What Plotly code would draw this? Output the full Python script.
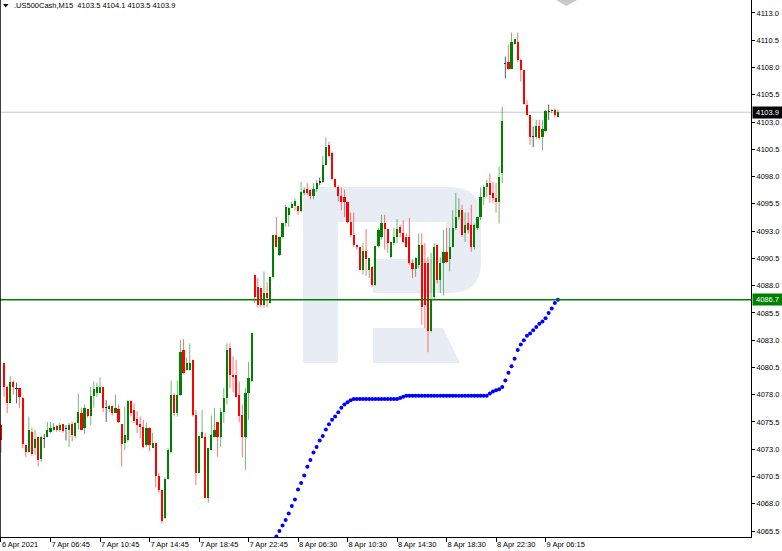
import plotly.graph_objects as go

# ---------------- data ----------------
tick_labels = ["6 Apr 2021", "7 Apr 06:45", "7 Apr 10:45", "7 Apr 14:45", "7 Apr 18:45",
               "7 Apr 22:45", "8 Apr 06:30", "8 Apr 10:30", "8 Apr 14:30", "8 Apr 18:30",
               "8 Apr 22:30", "9 Apr 06:15"]
y_tick_values = [4065.5, 4068.0, 4070.5, 4073.0, 4075.5, 4078.0, 4080.5, 4083.0, 4085.5,
                 4088.0, 4090.5, 4093.0, 4095.5, 4098.0, 4100.5, 4103.0, 4105.5, 4108.0,
                 4110.5, 4113.0]

opens = [4075.2, 4080.9, 4078.7, 4077.2, 4079.2, 4078.6, 4078.6, 4077.7, 4073.4, 4072.7,
         4074.6, 4073.1, 4074.1, 4072.1, 4074.0, 4074.1, 4074.6, 4074.8, 4075.1, 4074.8,
         4075.3, 4074.9, 4074.8, 4075.3, 4074.2, 4075.4, 4076.3, 4074.9, 4076.7, 4076.0,
         4077.9, 4078.2, 4078.2, 4078.7, 4076.8, 4076.7, 4077.0, 4076.3, 4076.7, 4075.3,
         4073.6, 4073.8, 4077.4, 4076.6, 4075.8, 4075.3, 4075.0, 4073.4, 4074.9, 4073.1,
         4073.6, 4070.5, 4069.3, 4066.7, 4070.3, 4072.7, 4078.0, 4076.3, 4078.0, 4082.1,
         4080.3, 4080.3, 4081.2, 4076.1, 4070.8, 4074.0, 4074.1, 4068.5, 4072.9, 4074.1,
         4075.5, 4074.1, 4076.4, 4077.7, 4082.3, 4079.8, 4079.8, 4078.0, 4076.1, 4074.1,
         4078.2, 4079.3, 4089.0, 4087.9, 4087.8, 4086.2, 4087.3, 4086.4, 4088.8, 4092.6,
         4090.8, 4092.5, 4093.7, 4094.5, 4095.1, 4095.3, 4095.3, 4094.8, 4096.5, 4096.9,
         4096.8, 4096.2, 4096.9, 4097.5, 4097.5, 4099.1, 4100.9, 4100.2, 4097.8, 4097.0,
         4096.2, 4096.1, 4095.7, 4093.8, 4092.6, 4091.7, 4091.5, 4089.4, 4091.2, 4089.4,
         4089.7, 4088.1, 4091.6, 4092.5, 4093.7, 4093.2, 4090.6, 4091.9, 4092.5, 4093.4,
         4092.8, 4092.5, 4092.5, 4090.1, 4089.5, 4089.9, 4091.7, 4090.1, 4090.1, 4083.8,
         4087.0, 4091.7, 4088.5, 4090.1, 4091.1, 4090.4, 4091.5, 4093.3, 4094.3, 4094.9,
         4092.8, 4093.7, 4093.6, 4091.5, 4093.3, 4094.3, 4096.1, 4097.0, 4097.4, 4096.5,
         4096.0, 4095.7, 4098.3, 4108.4, 4108.5, 4107.9, 4110.2, 4110.3, 4108.7, 4107.8,
         4104.6, 4103.6, 4101.7, 4101.6, 4102.6, 4101.6, 4102.2, 4104.0, 4104.0, 4104.1,
         4103.5]
highs = [4075.2, 4080.9, 4078.8, 4079.7, 4079.3, 4079.1, 4078.6, 4077.8, 4073.4, 4076.0,
         4075.0, 4074.8, 4074.1, 4074.2, 4074.4, 4075.5, 4075.5, 4075.4, 4075.2, 4075.4,
         4075.3, 4075.2, 4075.4, 4075.5, 4075.5, 4078.1, 4076.8, 4077.1, 4076.7, 4078.7,
         4079.2, 4079.1, 4079.6, 4078.7, 4077.5, 4077.1, 4077.0, 4078.0, 4077.1, 4075.3,
         4076.9, 4077.5, 4077.5, 4077.2, 4076.5, 4076.0, 4075.7, 4075.4, 4075.0, 4074.5,
         4073.6, 4070.8, 4069.3, 4070.4, 4073.1, 4079.3, 4078.1, 4079.3, 4083.0, 4083.1,
         4081.4, 4082.7, 4081.2, 4076.6, 4074.2, 4076.6, 4074.5, 4073.1, 4076.1, 4076.8,
         4075.5, 4076.8, 4078.6, 4082.7, 4082.7, 4081.5, 4081.2, 4079.2, 4077.1, 4078.6,
         4081.0, 4083.7, 4089.0, 4088.7, 4087.8, 4089.3, 4088.3, 4088.8, 4092.6, 4094.3,
         4092.5, 4093.7, 4095.4, 4095.2, 4095.7, 4096.0, 4095.3, 4097.5, 4097.0, 4097.4,
         4096.8, 4097.4, 4097.7, 4097.9, 4099.9, 4101.6, 4101.2, 4100.3, 4097.8, 4097.2,
         4097.0, 4096.8, 4095.7, 4094.7, 4094.7, 4091.7, 4091.5, 4091.9, 4093.2, 4090.5,
         4089.8, 4091.6, 4093.3, 4094.5, 4094.5, 4093.2, 4092.0, 4093.3, 4094.1, 4093.6,
         4094.0, 4092.8, 4094.2, 4090.4, 4090.6, 4092.8, 4092.8, 4091.9, 4090.6, 4091.0,
         4091.9, 4091.7, 4090.6, 4093.1, 4093.3, 4093.3, 4094.9, 4096.5, 4096.0, 4095.4,
         4094.7, 4094.7, 4095.4, 4093.7, 4094.3, 4097.0, 4097.2, 4097.7, 4098.3, 4097.5,
         4097.4, 4098.9, 4104.4, 4109.0, 4110.1, 4111.2, 4110.6, 4111.2, 4108.8, 4107.8,
         4105.0, 4103.6, 4102.6, 4103.2, 4103.2, 4103.2, 4104.1, 4104.6, 4104.2, 4104.2,
         4104.1]
lows = [4072.7, 4077.8, 4076.3, 4077.2, 4078.0, 4077.2, 4076.8, 4073.1, 4072.3, 4072.7,
        4072.4, 4072.5, 4071.4, 4071.8, 4073.1, 4074.1, 4074.5, 4074.7, 4074.6, 4074.6,
        4074.5, 4073.8, 4073.2, 4073.7, 4074.0, 4074.8, 4074.8, 4074.4, 4075.9, 4075.2,
        4076.8, 4077.8, 4078.2, 4076.4, 4075.5, 4076.4, 4076.1, 4076.3, 4075.4, 4071.4,
        4072.9, 4073.7, 4076.0, 4075.4, 4074.5, 4074.0, 4073.1, 4073.2, 4072.8, 4073.1,
        4069.5, 4069.0, 4066.2, 4066.6, 4070.2, 4072.6, 4076.0, 4076.0, 4077.9, 4079.9,
        4080.2, 4080.2, 4076.0, 4069.7, 4070.8, 4074.0, 4068.5, 4068.1, 4072.9, 4074.1,
        4072.3, 4073.2, 4075.4, 4077.1, 4078.6, 4078.2, 4077.7, 4075.5, 4072.3, 4071.1,
        4075.7, 4079.2, 4086.4, 4086.0, 4086.0, 4086.0, 4086.0, 4086.4, 4088.7, 4091.5,
        4090.7, 4092.4, 4093.4, 4093.4, 4095.1, 4094.9, 4094.5, 4094.7, 4096.3, 4096.3,
        4095.9, 4095.9, 4096.6, 4097.2, 4097.4, 4099.0, 4099.8, 4097.7, 4097.0, 4095.7,
        4094.9, 4094.3, 4093.7, 4092.5, 4091.5, 4091.3, 4089.4, 4089.0, 4088.9, 4088.7,
        4087.9, 4088.0, 4091.5, 4092.2, 4091.3, 4091.0, 4090.5, 4091.7, 4091.9, 4092.4,
        4091.9, 4091.5, 4089.9, 4088.7, 4088.8, 4089.6, 4084.4, 4084.1, 4081.9, 4083.7,
        4086.7, 4088.2, 4087.3, 4087.1, 4090.1, 4089.3, 4091.5, 4093.1, 4094.0, 4092.5,
        4092.0, 4092.8, 4091.1, 4091.3, 4093.1, 4094.0, 4095.4, 4096.1, 4095.6, 4095.6,
        4094.7, 4093.7, 4097.4, 4107.0, 4107.8, 4107.9, 4110.1, 4108.5, 4106.7, 4104.6,
        4103.6, 4100.9, 4100.7, 4101.4, 4101.4, 4100.4, 4102.1, 4103.2, 4103.8, 4103.4,
        4103.5]
closes = [4073.8, 4078.7, 4077.2, 4079.2, 4078.7, 4078.6, 4077.8, 4073.5, 4072.7, 4074.8,
          4072.6, 4073.9, 4072.0, 4074.1, 4074.0, 4074.8, 4074.9, 4075.0, 4074.8, 4075.2,
          4074.7, 4074.9, 4075.2, 4074.3, 4075.4, 4076.4, 4074.8, 4076.8, 4076.0, 4077.9,
          4078.5, 4078.7, 4078.7, 4076.8, 4076.8, 4077.0, 4076.3, 4076.8, 4075.5, 4073.5,
          4074.3, 4077.4, 4076.3, 4075.6, 4075.2, 4075.0, 4073.2, 4074.9, 4073.4, 4073.6,
          4070.5, 4069.3, 4066.4, 4070.3, 4072.9, 4078.0, 4076.3, 4078.0, 4081.9, 4080.0,
          4080.9, 4080.9, 4076.1, 4070.8, 4074.2, 4074.6, 4068.5, 4073.1, 4074.3, 4074.8,
          4074.1, 4076.4, 4077.7, 4082.1, 4079.8, 4079.6, 4077.8, 4076.0, 4074.1, 4078.2,
          4079.5, 4083.7, 4087.0, 4086.2, 4086.2, 4087.3, 4086.9, 4088.8, 4092.6, 4091.5,
          4092.5, 4093.7, 4095.2, 4095.1, 4095.5, 4095.8, 4094.8, 4096.6, 4096.8, 4096.5,
          4096.2, 4096.9, 4097.4, 4097.5, 4099.1, 4100.7, 4099.9, 4097.8, 4097.0, 4096.2,
          4095.7, 4095.7, 4093.8, 4092.6, 4091.7, 4091.5, 4089.4, 4091.2, 4090.4, 4090.5,
          4088.1, 4091.6, 4093.1, 4093.7, 4093.2, 4091.9, 4092.0, 4092.5, 4093.2, 4092.8,
          4092.0, 4091.5, 4090.1, 4089.5, 4090.5, 4091.7, 4086.0, 4086.2, 4083.8, 4086.7,
          4091.5, 4088.5, 4090.1, 4091.1, 4090.2, 4091.5, 4093.3, 4094.3, 4094.9, 4092.6,
          4093.6, 4093.1, 4091.5, 4093.6, 4094.3, 4096.1, 4097.0, 4097.4, 4096.3, 4096.0,
          4095.7, 4098.0, 4103.1, 4108.4, 4107.9, 4110.3, 4110.6, 4108.7, 4107.8, 4104.7,
          4103.6, 4101.6, 4101.7, 4102.6, 4101.5, 4102.4, 4104.0, 4104.0, 4104.1, 4103.6,
          4103.9]

indicator_start_bar = 89
indicator_values = [4065.0, 4065.5, 4066.0, 4066.5, 4067.1, 4067.8, 4068.4, 4069.3, 4069.9, 4070.6,
                    4071.4, 4072.0, 4072.7, 4073.2, 4073.8, 4074.2, 4074.8, 4075.3, 4075.7, 4076.0,
                    4076.4, 4076.8, 4077.1, 4077.3, 4077.5, 4077.6,
                    4077.6, 4077.6, 4077.6, 4077.6, 4077.6, 4077.6, 4077.6, 4077.6, 4077.6, 4077.6,
                    4077.6, 4077.6, 4077.6, 4077.6,
                    4077.7, 4077.8,
                    4077.9, 4077.9, 4077.9, 4077.9, 4077.9, 4077.9, 4077.9, 4077.9, 4077.9, 4077.9,
                    4077.9, 4077.9, 4077.9, 4077.9, 4077.9, 4077.9, 4077.9, 4077.9, 4077.9, 4077.9,
                    4077.9, 4077.9, 4077.9, 4077.9, 4077.9, 4077.9, 4077.9,
                    4078.1, 4078.3, 4078.4, 4078.5, 4078.7, 4079.3, 4080.0, 4080.6, 4081.3, 4082.1,
                    4082.6, 4083.0, 4083.4, 4083.6, 4083.9, 4084.2, 4084.5, 4084.7, 4085.0, 4085.5,
                    4085.9, 4086.4, 4086.7]

support_level = 4086.7
last_price = 4103.9
header_text = ".US500Cash,M15  4103.5 4104.1 4103.5 4103.9"

# ---------------- styling ----------------
FONT = "Liberation Sans"
GREEN = "#008000"
RED = "#ff0000"
PW, PH = 751.0, 537.0  # plot area in pixels


def px(x):
    return x / PW


def py(y):
    return 1 - y / PH


def pth(points):
    return "M " + " L ".join(f"{px(a):.5f},{py(b):.5f}" for a, b in points) + " Z"


bars = list(range(len(opens)))
up = [i for i in bars if closes[i] - opens[i] > 0.05]
down = [i for i in bars if opens[i] - closes[i] > 0.05]
doji = [i for i in bars if abs(closes[i] - opens[i]) <= 0.05]

fig = go.Figure()

groups = [(up, "rgba(0,128,0,0.55)", GREEN),
          (down, "rgba(255,0,0,0.55)", RED),
          (doji, "rgba(40,40,40,0.75)", "#303030")]

for ids, wcol, _ in groups:
    xs, ys = [], []
    for i in ids:
        xs += [i, i, None]
        ys += [lows[i], highs[i], None]
    fig.add_trace(go.Scatter(x=xs, y=ys, mode="lines", line=dict(color=wcol, width=1),
                             hoverinfo="skip", showlegend=False))

for ids, _, bcol in groups:
    base, height = [], []
    for i in ids:
        lo, hi = min(opens[i], closes[i]), max(opens[i], closes[i])
        if hi - lo < 0.1:
            mid = (hi + lo) / 2
            lo, hi = mid - 0.05, mid + 0.05
        base.append(lo)
        height.append(hi - lo)
    fig.add_trace(go.Bar(x=ids, base=base, y=height, width=0.7,
                         marker=dict(color=bcol, line=dict(width=0)),
                         hoverinfo="skip", showlegend=False))

ind_x = list(range(indicator_start_bar, indicator_start_bar + len(indicator_values)))
fig.add_trace(go.Scatter(x=ind_x, y=indicator_values, mode="markers",
                         marker=dict(color="#0000ff", size=4, line=dict(width=0)),
                         hoverinfo="skip", showlegend=False))

logo = "#e8edf5"
shapes = [
    # watermark logo
    dict(type="path", xref="paper", yref="paper", layer="below", line=dict(width=0), fillcolor=logo,
         path=("M {a},{b} L {c},{b} Q {d},{b} {d},{e} L {d},{f} Q {d},{g} {c},{g} L {h},{g} L {h},{i} "
               "L {j},{i} L {j},{k} L {l},{k} L {l},{m} L {a},{m} Z").format(
             a=f"{px(303):.5f}", b=f"{py(187):.5f}", c=f"{px(450):.5f}", d=f"{px(481):.5f}",
             e=f"{py(218):.5f}", f=f"{py(262):.5f}", g=f"{py(293):.5f}", h=f"{px(373):.5f}",
             i=f"{py(259):.5f}", j=f"{px(446):.5f}", k=f"{py(222):.5f}", l=f"{px(338):.5f}",
             m=f"{py(363):.5f}")),
    dict(type="path", xref="paper", yref="paper", layer="below", line=dict(width=0), fillcolor=logo,
         path=pth([(373, 328), (443, 328), (460, 363), (373, 363)])),
    # price lines
    dict(type="line", xref="paper", x0=0, x1=1, yref="y", y0=last_price, y1=last_price,
         line=dict(color="#c8c8c8", width=1), layer="below"),
    dict(type="line", xref="paper", x0=0, x1=1, yref="y", y0=support_level, y1=support_level,
         line=dict(color=GREEN, width=1.6), layer="above"),
    # left border
    dict(type="line", xref="paper", yref="paper", x0=0, x1=0, y0=0, y1=1,
         line=dict(color="#000000", width=1.5)),
    # header triangle
    dict(type="path", xref="paper", yref="paper", line=dict(width=0), fillcolor="#000000",
         path=pth([(3, 4), (8.5, 4), (5.75, 7.5)])),
    # chart shift marker
    dict(type="path", xref="paper", yref="paper", line=dict(width=0), fillcolor="#c8c8c8",
         path=pth([(556, 0), (577, 0), (566.5, 6)])),
]

annotations = [
    dict(xref="paper", yref="paper", x=px(12), y=py(6), xanchor="left", yanchor="middle",
         text=header_text, showarrow=False, font=dict(family=FONT, size=7.5, color="#000000")),
    dict(xref="paper", yref="y", x=1, y=last_price, xanchor="left", yanchor="middle",
         text=f"{last_price:.1f}", showarrow=False, bgcolor="#000000", borderpad=1, width=27,
         font=dict(family=FONT, size=7.5, color="#ffffff"), xshift=0.5),
    dict(xref="paper", yref="y", x=1, y=support_level, xanchor="left", yanchor="middle",
         text=f"{support_level:.1f}", showarrow=False, bgcolor=GREEN, borderpad=1, width=27,
         font=dict(family=FONT, size=7.5, color="#ffffff"), xshift=0.5),
]

fig.update_layout(
    width=782, height=551,
    margin=dict(l=0, r=31, t=0, b=14, pad=0),
    paper_bgcolor="#ffffff", plot_bgcolor="#ffffff",
    barmode="overlay", bargap=0, showlegend=False, hovermode=False,
    font=dict(family=FONT, size=7.5, color="#000000"),
    shapes=shapes, annotations=annotations,
    xaxis=dict(range=[-0.32, 242.4], showgrid=False, zeroline=False, showline=True,
               linecolor="#000000", linewidth=1, ticks="outside", ticklen=4, tickcolor="#000000",
               tickvals=bars[::16], ticktext=tick_labels, ticklabelposition="outside right",
               tickfont=dict(family=FONT, size=7.5, color="#000000"), automargin=False,
               fixedrange=True),
    yaxis=dict(range=[4064.95, 4114.19], side="right", showgrid=False, zeroline=False,
               showline=True, linecolor="#000000", linewidth=1, ticks="outside", ticklen=3,
               tickcolor="#000000", tickvals=y_tick_values, tickformat=".1f",
               tickfont=dict(family=FONT, size=7.5, color="#000000"), automargin=False,
               fixedrange=True),
)

fig.write_html("out.html", config={"displayModeBar": False, "staticPlot": True},
               post_script="document.body.style.margin='0';document.body.style.padding='0';"
                           "document.body.style.overflow='hidden';")
